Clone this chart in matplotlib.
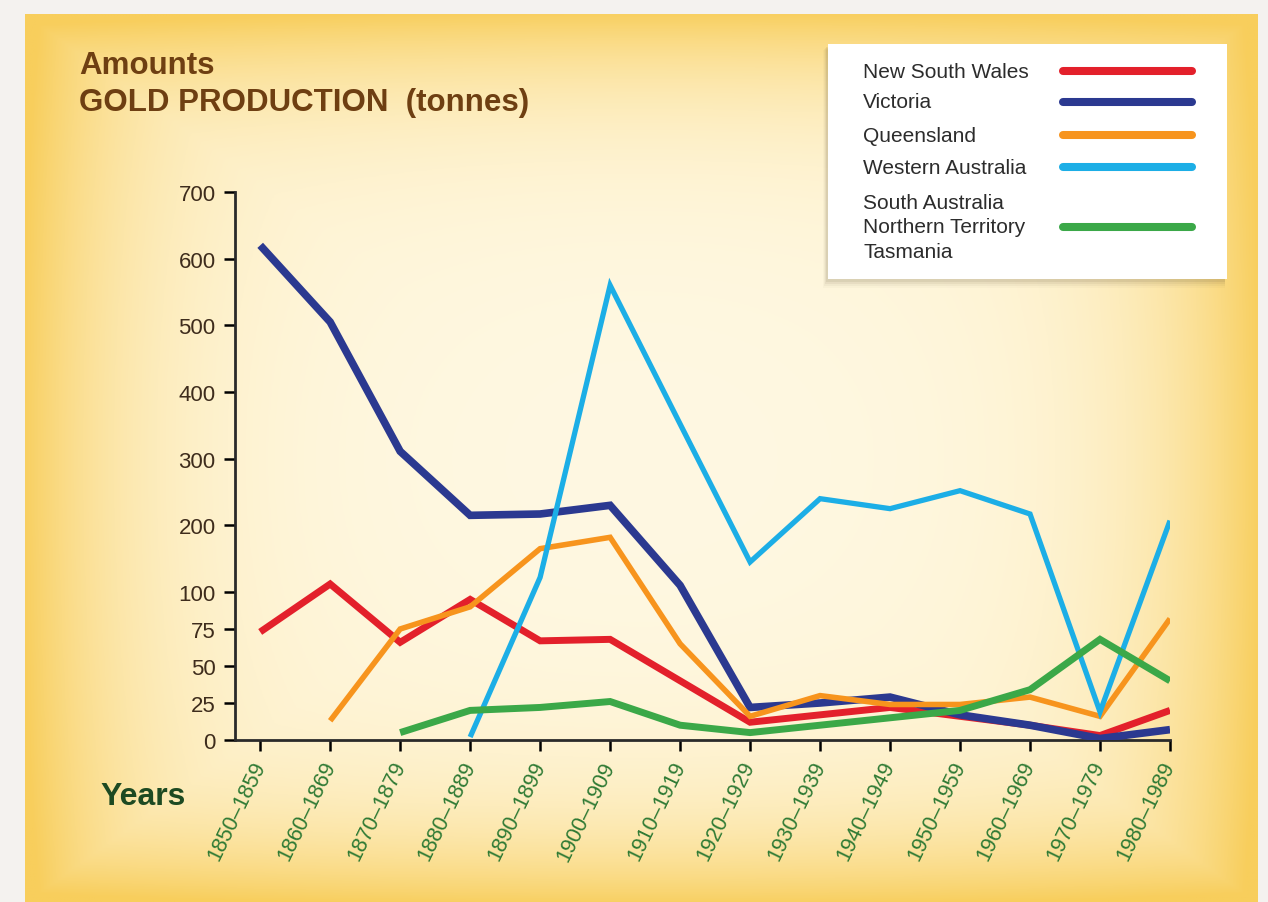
import numpy as np
import matplotlib
matplotlib.use("Agg")
import matplotlib.pyplot as plt
from matplotlib.patches import Rectangle

plt.rcParams['font.family'] = ['Liberation Sans', 'DejaVu Sans']

# decades on the x axis
decades = ["1850–1859", "1860–1869", "1870–1879", "1880–1889", "1890–1899",
           "1900–1909", "1910–1919", "1920–1929", "1930–1939", "1940–1949",
           "1950–1959", "1960–1969", "1970–1979", "1980–1989"]

# gold production in tonnes (None = no line there)
nsw = [73, 112, 66, 95, 67, 68, 40, 12, 17, 22, 16, 10, 3, 20]
victoria = [620, 505, 311, 215, 217, 230, 110, 22, 25, 29, 17, 10, 1, 7]
queensland = [None, 13, 75, 90, 165, 182, 65, 16, 30, 24, 24, 29, 16, 82]
western_aus = [None, None, None, 2, 122, 560, 352, 145, 240, 225, 252, 217, 19, 207]
others = [None, None, 5, 20, 22, 26, 10, 5, 10, 15, 20, 34, 68, 40]

series_names = ["New South Wales", "Victoria", "Queensland", "Western Australia",
                "South Australia\nNorthern Territory\nTasmania"]
series_colors = ["#E3202B", "#2B3990", "#F7941D", "#1CAEE6", "#3BA848"]
series_widths = [5.0, 5.5, 4.0, 3.8, 5.0]

y_ticks = [0, 25, 50, 75, 100, 200, 300, 400, 500, 600, 700]


def fwd(v):
    v = np.asarray(v, dtype=float)
    return np.where(v <= 100, v * 2.22, 222 + (v - 100))


def inv(u):
    u = np.asarray(u, dtype=float)
    return np.where(u <= 222, u / 2.22, 100 + (u - 222))


fig = plt.figure(figsize=(12.68, 9.03), dpi=100)

# background: white surround and golden card with a soft vignette
bg = fig.add_axes([0, 0, 1, 1])
bg.set_xlim(0, 1268)
bg.set_ylim(903, 0)
bg.axis("off")
bg.add_patch(Rectangle((0, 0), 1268, 903, color="#F4F2EF", zorder=0))
W, H = 1233, 890
xx, yy = np.meshgrid(np.linspace(-1, 1, 400), np.linspace(-1, 1, 300))
d = np.maximum(np.abs(xx) ** 6, np.abs(yy) ** 6) * 0.8 + (xx ** 2 + yy ** 2) * 0.15
d = np.clip(d, 0, 1)
c_in = np.array([255, 248, 226]) / 255
c_out = np.array([248, 206, 92]) / 255
img = c_in[None, None, :] * (1 - d[..., None]) + c_out[None, None, :] * d[..., None]
bg.imshow(img, extent=(25, 25 + W, 15 + H, 15), aspect="auto", zorder=1)

ax = fig.add_axes([235 / 1268, 162 / 903, 935 / 1268, 548 / 903])
ax.patch.set_alpha(0)
ax.set_yscale("function", functions=(fwd, inv))
x = np.arange(len(decades))
all_series = [nsw, victoria, queensland, western_aus, others]
for i in [4, 2, 3, 1, 0]:
    vals = np.array([np.nan if v is None else v for v in all_series[i]], dtype=float)
    ax.plot(x, vals, color=series_colors[i], lw=series_widths[i],
            solid_joinstyle="miter", solid_capstyle="butt", zorder=3 + i)

ax.set_xlim(-0.36, len(decades) - 1)
ax.set_ylim(0, 700)
ax.set_yticks(y_ticks)
ax.set_yticklabels([str(t) for t in y_ticks])
ax.set_xticks(x)
ax.set_xticklabels(decades, rotation=64, ha="right", va="center",
                   rotation_mode="anchor", color="#2F7A34", fontsize=15.5)
ax.tick_params(axis="y", labelsize=16, labelcolor="#3E2C1C", length=8, width=1.8,
               direction="out", pad=6)
ax.tick_params(axis="x", length=8, width=1.8, direction="out", pad=8)
for s in ["top", "right"]:
    ax.spines[s].set_visible(False)
for s in ["left", "bottom"]:
    ax.spines[s].set_linewidth(2)
    ax.spines[s].set_color("#2A2A2A")

# overlay in pixel coords for titles and the legend box
ov = fig.add_axes([0, 0, 1, 1])
ov.set_xlim(0, 1268)
ov.set_ylim(903, 0)
ov.axis("off")
ov.patch.set_alpha(0)

ov.text(79, 66, "Amounts", fontsize=22.5, fontweight="bold", color="#6E3F12", va="center")
ov.text(79, 103, "GOLD PRODUCTION  (tonnes)", fontsize=22.5, fontweight="bold",
        color="#6E3F12", va="center")
ov.text(100, 797, "Years", fontsize=23, fontweight="bold", color="#1D4A22", va="center")

# legend
for k, a in enumerate([0.10, 0.07, 0.05, 0.03]):
    ov.add_patch(Rectangle((828 - 2 - k, 45 + 3 + k), 399 + k, 235 + k,
                           color="#6B5A3A", alpha=a, lw=0, zorder=1))
ov.add_patch(Rectangle((828, 45), 399, 235, color="white", lw=0, zorder=2))
label_y = [72, 103, 136, 168, 228]
for name, col, yc in zip(series_names, series_colors, label_y):
    ov.text(863, yc, name, fontsize=15, color="#2C2C2C", va="center",
            linespacing=1.38, zorder=3)
    ov.plot([1063, 1192], [yc, yc], color=col, lw=5.8, solid_capstyle="round", zorder=3)

fig.savefig("out.png", dpi=100)
